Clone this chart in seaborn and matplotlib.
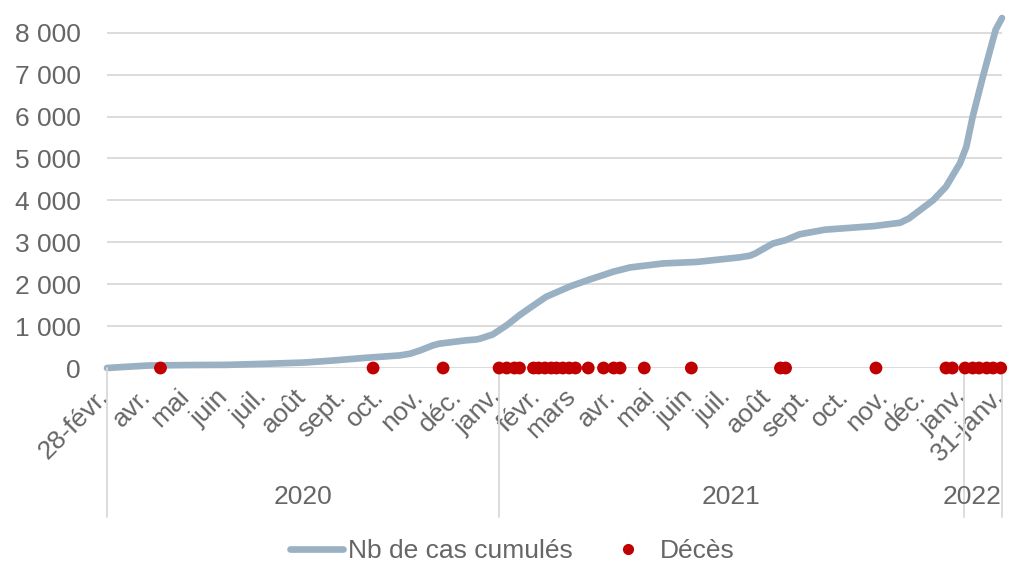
import pandas as pd
import matplotlib
matplotlib.use("Agg")
import matplotlib.pyplot as plt
import matplotlib.transforms as mtransforms
from matplotlib.ticker import FuncFormatter
from matplotlib.lines import Line2D
import seaborn as sns

# Cumulative cases
case_dates = [
    "2020-02-28", "2020-03-15", "2020-04-01", "2020-05-01", "2020-06-01",
    "2020-07-01", "2020-08-01", "2020-08-24", "2020-09-19", "2020-10-15",
    "2020-10-23", "2020-10-31", "2020-11-10", "2020-11-15", "2020-12-06",
    "2020-12-14", "2020-12-17", "2020-12-27", "2021-01-01", "2021-01-07",
    "2021-01-12", "2021-01-17", "2021-01-25", "2021-02-07", "2021-02-26",
    "2021-03-13", "2021-04-01", "2021-04-14", "2021-05-10", "2021-06-05",
    "2021-07-09", "2021-07-17", "2021-07-21", "2021-08-04", "2021-08-14",
    "2021-08-25", "2021-09-14", "2021-10-04", "2021-10-22", "2021-11-12",
    "2021-11-19", "2021-12-08", "2021-12-18", "2021-12-29", "2022-01-03",
    "2022-01-08", "2022-01-16", "2022-01-21", "2022-01-26", "2022-01-31",
]
case_values = [
    0, 30, 60, 70, 75,
    100, 130, 180, 245, 300,
    340, 420, 540, 580, 660,
    680, 700, 800, 900, 1020,
    1140, 1260, 1430, 1700, 1950,
    2110, 2300, 2400, 2495, 2530,
    2640, 2680, 2730, 2970, 3050,
    3190, 3300, 3345, 3385, 3465,
    3570, 4005, 4325, 4885, 5280,
    6000, 6950, 7510, 8070, 8350,
]

# Deaths (one dot per death, drawn on the zero line)
death_dates = [
    "2020-04-10", "2020-09-24", "2020-11-18",
    "2021-01-01", "2021-01-07", "2021-01-13", "2021-01-17", "2021-01-28",
    "2021-02-01", "2021-02-06", "2021-02-11", "2021-02-15", "2021-02-20",
    "2021-02-25", "2021-03-02", "2021-03-12", "2021-03-24", "2021-04-01",
    "2021-04-06", "2021-04-25", "2021-06-01", "2021-08-10", "2021-08-14",
    "2021-10-24", "2021-12-18", "2021-12-23", "2022-01-02", "2022-01-08",
    "2022-01-13", "2022-01-19", "2022-01-24", "2022-01-30",
]

tick_dates = [
    "2020-02-28", "2020-04-01", "2020-05-01", "2020-06-01", "2020-07-01",
    "2020-08-01", "2020-09-01", "2020-10-01", "2020-11-01", "2020-12-01",
    "2021-01-01", "2021-02-01", "2021-03-01", "2021-04-01", "2021-05-01",
    "2021-06-01", "2021-07-01", "2021-08-01", "2021-09-01", "2021-10-01",
    "2021-11-01", "2021-12-01", "2022-01-01", "2022-01-31",
]
tick_labels = [
    "28-févr.", "avr.", "mai", "juin", "juil.",
    "août", "sept.", "oct.", "nov.", "déc.",
    "janv.", "févr.", "mars", "avr.", "mai",
    "juin", "juil.", "août", "sept.", "oct.",
    "nov.", "déc.", "janv.", "31-janv.",
]
years = ["2020", "2021", "2022"]
year_bounds = ["2020-02-28", "2021-01-01", "2022-01-01", "2022-01-31"]

sns.set_style("white")
plt.rcParams["font.family"] = ["Liberation Sans", "DejaVu Sans"]

grey = "#666666"
grid_col = "#d9d9d9"
line_col = "#9AB0C3"
red = "#C00000"

fig = plt.figure(figsize=(10.14, 5.66), dpi=100)
ax = fig.add_axes([107 / 1014, 198 / 566, 895 / 1014, 368 / 566])

cases = pd.DataFrame({"date": pd.to_datetime(case_dates), "cas": case_values})
deaths = pd.DataFrame({"date": pd.to_datetime(death_dates), "y": 0})

sns.lineplot(data=cases, x="date", y="cas", ax=ax, color=line_col,
             linewidth=4.8, errorbar=None, legend=False, zorder=2,
             solid_joinstyle="round", solid_capstyle="round")
ax.lines[-1].set_clip_on(False)
sns.scatterplot(data=deaths, x="date", y="y", ax=ax, color=red, s=85,
                edgecolor="none", legend=False, zorder=3)
ax.collections[-1].set_clip_on(False)

ax.set_xlim(pd.Timestamp(year_bounds[0]), pd.Timestamp(year_bounds[-1]))
ax.set_ylim(0, 8780)
ax.set_yticks(range(0, 9000, 1000))
ax.yaxis.set_major_formatter(FuncFormatter(lambda v, p: f"{int(v):,}".replace(",", " ")))
ax.yaxis.grid(True, color=grid_col, linewidth=1.3)
ax.set_axisbelow(True)
for s in ax.spines.values():
    s.set_visible(False)
ax.set_xlabel("")
ax.set_ylabel("")

ax.tick_params(axis="y", length=0, pad=19, labelsize=19, labelcolor=grey)
ax.set_xticks(pd.to_datetime(tick_dates))
ax.set_xticklabels(tick_labels, rotation=45, ha="right", va="baseline",
                   rotation_mode="anchor")
ax.tick_params(axis="x", length=0, pad=21.5, labelsize=19, labelcolor=grey)
shift = mtransforms.ScaledTranslation(0.03, 0, fig.dpi_scale_trans)
for lbl in ax.get_xticklabels():
    lbl.set_transform(lbl.get_transform() + shift)

# year groups under the month labels
trans = ax.get_xaxis_transform()
for b in year_bounds:
    d = pd.Timestamp(b)
    ax.plot([d, d], [0, -0.405], transform=trans, color=grid_col,
            linewidth=1.3, clip_on=False)
for i, yr in enumerate(years):
    a, b = pd.Timestamp(year_bounds[i]), pd.Timestamp(year_bounds[i + 1])
    if i < len(years) - 1:
        ax.text(a + (b - a) / 2, -0.35, yr, transform=trans, ha="center",
                va="center", fontsize=19, color=grey)
    else:
        ax.text(b, -0.35, yr, transform=trans, ha="right", va="center",
                fontsize=19, color=grey)

handles = [
    Line2D([], [], color=line_col, linewidth=4.8),
    Line2D([], [], color=red, marker="o", linestyle="none", markersize=7),
]
fig.legend(handles, ["Nb de cas cumulés", "Décès"], loc="center",
           bbox_to_anchor=(0.505, 0.026), ncol=2, frameon=False, fontsize=19,
           handlelength=2.0, handletextpad=0.2, columnspacing=1.1,
           labelcolor=grey)

fig.savefig("out.png", dpi=100)
